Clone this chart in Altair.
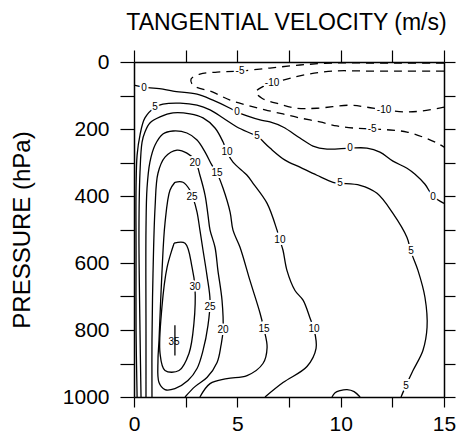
import altair as alt
import pandas as pd

# ---- contour paths: radius (axis units) and pressure (hPa) ----
c0_r = [0, 0.48, 1.40, 1.89, 3.05, 3.82, 4.65, 4.98, 5.47, 6.10, 6.58, 7.21, 8.03, 8.66, 9.34,
        10.45, 11.27, 11.90, 12.53, 13.21, 13.60, 14.08, 14.47, 15.0]
c0_p = [69, 75, 81, 87, 96, 114, 138, 149, 161, 173, 179, 194, 227, 251, 260,
        257, 257, 269, 296, 317, 335, 365, 401, 422]

c5_r = [0.15, 0.10, 0.10, 0.10, 0.15, 0.29, 0.53, 1.02, 1.40, 2.23, 3.05, 3.68, 4.31, 4.98, 5.61,
        5.95, 6.58, 7.31, 8.03, 8.85, 9.63, 9.97, 10.94, 11.76, 12.53, 13.21, 13.40, 13.74, 14.08,
        14.18, 13.98, 13.50, 13.16, 12.92]
c5_p = [1000, 801, 562, 377, 278, 218, 167, 135, 126, 123, 129, 143, 167, 194, 212,
        221, 257, 293, 314, 338, 359, 362, 368, 392, 452, 524, 566, 622, 703,
        792, 861, 921, 966, 1000]

c10_r = [0.34, 0.29, 0.24, 0.29, 0.39, 0.53, 0.77, 1.26, 1.89, 2.71, 3.34, 3.92, 4.31, 4.50, 4.79,
         5.47, 5.76, 6.44, 6.92, 7.06, 7.21, 7.40, 7.79, 8.18, 8.52, 8.71, 8.81, 8.37, 7.21, 6.34]
c10_p = [1000, 801, 502, 329, 239, 209, 182, 164, 152, 155, 167, 197, 239, 269, 299,
         338, 362, 422, 502, 532, 562, 622, 682, 711, 765, 798, 855, 909, 957, 1000]

c10b_r = [9.58, 9.73, 9.97, 10.31, 10.65, 10.94]
c10b_p = [1000, 987, 981, 978, 984, 1000]

c15_r = [0.58, 0.58, 0.58, 0.63, 0.77, 1.02, 1.40, 1.89, 2.56, 3.05, 3.44, 3.77, 4.02, 4.31, 4.65,
         4.79, 5.13, 5.61, 6.10, 6.29, 6.44, 6.24, 5.47, 4.50, 3.68, 3.19]
c15_p = [1000, 801, 502, 377, 299, 248, 215, 206, 212, 233, 269, 308, 332, 377, 448,
         502, 553, 652, 750, 798, 852, 900, 936, 945, 960, 1000]

c20_r = [0.87, 0.87, 0.92, 1.02, 1.16, 1.50, 2.08, 2.56, 2.95, 3.19, 3.44, 3.58, 3.68, 3.92, 4.06,
         4.26, 4.31, 4.21, 4.02, 3.53, 2.95, 2.47]
c20_p = [1000, 831, 631, 433, 332, 284, 263, 272, 293, 338, 398, 457, 502, 553, 622,
         712, 801, 846, 897, 942, 969, 1000]

c25_r = [1.98, 2.37, 2.71, 2.85, 3.05, 3.19, 3.34, 3.53, 3.68, 3.58, 3.34, 3.05, 2.61, 1.98, 1.50,
         1.21, 1.16, 1.21, 1.35, 1.50, 1.74, 1.98]
c25_p = [359, 359, 383, 404, 448, 502, 562, 637, 712, 786, 861, 915, 951, 975, 978,
         957, 891, 831, 631, 481, 383, 359]

c30_r = [1.94, 2.47, 2.81, 2.95, 2.90, 2.66, 2.18, 1.50, 1.26, 1.35, 1.60, 1.94]
c30_p = [541, 541, 613, 673, 780, 870, 921, 921, 870, 733, 613, 541]

cm5_r = [15, 14.42, 12.87, 11.27, 9.63, 8.03, 6.58, 5.13, 4.02, 3.19, 2.76, 2.85, 3.82, 4.65, 5.47,
         6.34, 7.21, 8.03, 9.00, 9.82, 10.60, 11.52, 12.39, 13.21, 13.98, 14.66, 15]
cm5_p = [3, 3, 3, 3, 3, 9, 18, 27, 30, 36, 51, 69, 90, 114, 129,
         143, 155, 167, 179, 191, 197, 200, 203, 209, 224, 242, 254]

cm10_r = [15, 14.42, 12.87, 11.27, 9.63, 8.18, 7.40, 6.68, 6.19, 5.90, 6.19, 7.06, 7.89, 8.85,
          10.45, 11.27, 12.10, 13.11, 13.98, 15]
cm10_p = [27, 27, 27, 27, 27, 39, 51, 63, 75, 90, 108, 126, 138, 138,
          129, 135, 143, 149, 146, 135]

# contour labels
lab_text = ["0", "0", "0", "0", "5", "5", "5", "5", "5", "10", "10", "10", "15", "15",
            "20", "20", "25", "25", "30", "35", "-5", "-5", "-10", "-10"]
lab_r = [0.48, 4.98, 10.45, 14.47, 1.02, 5.95, 9.97, 13.40, 13.16, 4.50, 7.06, 8.71, 4.02, 6.29,
         2.95, 4.31, 2.81, 3.68, 2.95, 1.94, 5.13, 11.52, 6.68, 12.10]
lab_p = [78, 149, 257, 404, 135, 221, 362, 565, 966, 269, 532, 798, 332, 798,
         302, 801, 404, 732, 673, 837, 27, 200, 63, 143]

# maximum marker
max_r = [1.98]
max_p1 = [786]
max_p2 = [876]

x_ticks = [0, 2.5, 5, 7.5, 10, 12.5, 15]
y_ticks = [0, 100, 200, 300, 400, 500, 600, 700, 800, 900, 1000]

# ---- build tables ----
def table(paths):
    rows = []
    for name, rs, ps in paths:
        for i, (r, p) in enumerate(zip(rs, ps)):
            rows.append({"cid": name, "i": i, "r": r, "p": p})
    return pd.DataFrame(rows)

solid_df = table([("0", c0_r, c0_p), ("5", c5_r, c5_p), ("10", c10_r, c10_p),
                  ("10b", c10b_r, c10b_p), ("15", c15_r, c15_p), ("20", c20_r, c20_p),
                  ("25", c25_r, c25_p), ("30", c30_r, c30_p)])
dash_df = table([("-5", cm5_r, cm5_p), ("-10", cm10_r, cm10_p)])
lab_df = pd.DataFrame({"t": lab_text, "r": lab_r, "p": lab_p})
max_df = pd.DataFrame({"r": max_r, "p": max_p1, "p2": max_p2})

FONT = "Liberation Sans"
XS = alt.Scale(domain=[0, 15], nice=False, zero=False)
YS = alt.Scale(domain=[0, 1000], reverse=True, nice=False, zero=False)

common = dict(domainColor="black", domainWidth=1.5, tickColor="black", tickWidth=1.2,
              grid=False, labelFlush=False, labelOverlap=False, labelColor="black",
              labelFont=FONT, titleFont=FONT, titleColor="black", titleFontWeight="normal")

bottom_axis = alt.Axis(values=x_ticks, format="d",
                       labelExpr="datum.value % 5 == 0 ? datum.label : ''",
                       tickSize=10, labelPadding=6, labelFontSize=21, title=None, **common)
left_axis = alt.Axis(values=y_ticks, format="d",
                     labelExpr="datum.value % 200 == 0 ? datum.label : ''",
                     tickSize=14, labelPadding=11, labelFontSize=21,
                     title="PRESSURE (hPa)", titleFontSize=24, titleAngle=270,
                     titleX=-112, titleY=167.5, titleAlign="center", titleBaseline="middle",
                     **common)
top_axis = alt.Axis(orient="top", values=x_ticks, labels=False, tickSize=12,
                    title="TANGENTIAL VELOCITY (m/s)", titleFontSize=23,
                    titleX=152, titleY=-32.5, titleAlign="center", titleBaseline="alphabetic",
                    **common)
right_axis = alt.Axis(orient="right", values=y_ticks, labels=False, tickSize=11, title=None,
                      **common)

solid = alt.Chart(solid_df).mark_line(color="black", strokeWidth=1.3,
                                      interpolate="catmull-rom").encode(
    x=alt.X("r:Q", scale=XS, axis=bottom_axis),
    y=alt.Y("p:Q", scale=YS, axis=left_axis),
    detail="cid:N",
    order="i:Q",
)

dashed = alt.Chart(dash_df).mark_line(color="black", strokeWidth=1.3, strokeDash=[8, 6],
                                      interpolate="catmull-rom").encode(
    x=alt.X("r:Q", scale=XS, axis=None),
    y=alt.Y("p:Q", scale=YS, axis=None),
    detail="cid:N",
    order="i:Q",
)

halo = alt.Chart(lab_df).mark_text(color="white", stroke="white", strokeWidth=4,
                                   fontSize=10, font=FONT).encode(
    x=alt.X("r:Q", scale=XS, axis=None),
    y=alt.Y("p:Q", scale=YS, axis=None),
    text="t:N",
)

marker = alt.Chart(max_df).mark_rule(color="black", strokeWidth=1.3).encode(
    x=alt.X("r:Q", scale=XS, axis=None),
    y=alt.Y("p:Q", scale=YS, axis=None),
    y2="p2:Q",
)

labels = alt.Chart(lab_df).mark_text(color="black", fontSize=10, font=FONT).encode(
    x=alt.X("r:Q", scale=XS, axis=None),
    y=alt.Y("p:Q", scale=YS, axis=None),
    text="t:N",
)

frame = alt.Chart(lab_df).mark_point(opacity=0).encode(
    x=alt.X("r:Q", scale=XS, axis=top_axis),
    y=alt.Y("p:Q", scale=YS, axis=right_axis),
)

chart = alt.layer(solid, dashed, halo, marker, labels, frame).resolve_axis(
    x="independent", y="independent"
).properties(
    width=310, height=335,
    autosize=alt.AutoSizeParams(type="none"),
    padding={"left": 134, "top": 62, "right": 19, "bottom": 41},
    background="white",
).configure_view(stroke=None)

chart.save("out.html", embed_options={"renderer": "svg", "actions": False})
